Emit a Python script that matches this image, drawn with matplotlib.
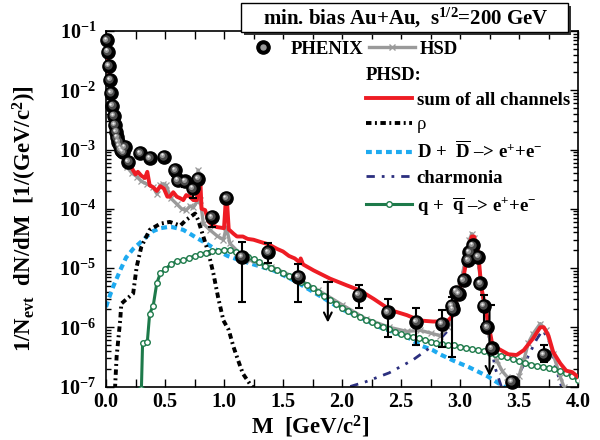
import matplotlib
matplotlib.use('Agg')
import numpy as np
import matplotlib.pyplot as plt
from matplotlib.lines import Line2D
from matplotlib.patches import Rectangle
from matplotlib.transforms import offset_copy
from matplotlib.legend_handler import HandlerTuple
from matplotlib.ticker import LogLocator, FuncFormatter, MultipleLocator, NullFormatter

plt.rcParams['font.family'] = ['Liberation Serif', 'DejaVu Serif']
plt.rcParams['font.weight'] = 'bold'
plt.rcParams['mathtext.fontset'] = 'custom'
plt.rcParams['mathtext.rm'] = 'Liberation Serif:bold'
plt.rcParams['mathtext.bf'] = 'Liberation Serif:bold'
plt.rcParams['mathtext.it'] = 'Liberation Serif:bold'

# PHENIX dielectron yield (spheres)
phx_m = [0.005, 0.015, 0.025, 0.035, 0.045, 0.055, 0.065, 0.075, 0.085, 0.095,
         0.105, 0.115, 0.125, 0.135, 0.145, 0.16, 0.19, 0.29, 0.37, 0.49,
         0.585, 0.61, 0.67, 0.735, 0.78, 0.895, 1.02,
         1.15, 1.375, 1.63, 2.14, 2.39, 2.63, 2.845,
         2.93, 2.94, 2.97, 2.99, 3.03, 3.07, 3.08, 3.11, 3.155, 3.17, 3.20, 3.23,
         3.27, 3.44, 3.71]
phx_y = [7.0e-2, 4.5e-2, 2.6e-2, 1.5e-2, 9.0e-3, 5.5e-3, 3.7e-3, 2.6e-3, 2.0e-3, 1.6e-3,
         1.35e-3, 1.15e-3, 1.0e-3, 9.5e-4, 9.0e-4, 1.1e-3, 6.2e-4, 8.7e-4, 7.1e-4, 7.6e-4,
         4.5e-4, 3.0e-4, 2.9e-4, 2.2e-4, 3.2e-4, 7.2e-5, 1.5e-4,
         1.55e-5, 1.86e-5, 7.1e-6, 3.5e-6, 1.8e-6, 1.23e-6, 1.15e-6,
         2.3e-6, 2.0e-6, 4.0e-6, 3.7e-6, 6.2e-6, 1.35e-5, 1.85e-5, 2.4e-5, 1.55e-5, 5.5e-6, 2.3e-6, 1.0e-6,
         4.4e-7, 1.2e-7, 3.4e-7]

# error bars: mass, value, lower end, upper end
err_m = [0.585, 0.67, 0.735, 0.895, 1.15, 1.375, 1.63, 2.14, 2.39, 2.63, 2.845, 2.93, 3.20, 3.71]
err_y = [4.5e-4, 2.9e-4, 2.2e-4, 7.2e-5, 1.55e-5, 1.86e-5, 7.1e-6, 3.5e-6, 1.8e-6, 1.23e-6, 1.15e-6, 2.3e-6, 2.3e-6, 3.4e-7]
err_lo = [3.6e-4, 2.3e-4, 1.5e-4, 4.9e-5, 2.7e-6, 1.2e-5, 2.7e-6, 2.1e-6, 6.9e-7, 5.0e-7, 4.7e-7, 3.2e-7, 1.0e-6, 2.6e-7]
err_hi = [4.5e-4, 2.9e-4, 2.2e-4, 7.2e-5, 2.75e-5, 2.6e-5, 1.15e-5, 5.1e-6, 3.0e-6, 2.1e-6, 1.95e-6, 3.2e-6, 3.5e-6, 5.0e-7]

# upper limits: mass, top of bar, arrow tip
ul_m = [1.88, 3.25]
ul_top = [5.9e-6, 2.4e-6]
ul_tip = [1.2e-6, 1.5e-7]

# HSD
hsd_m = [0.0, 0.02, 0.04, 0.06, 0.08, 0.10, 0.12, 0.15, 0.18, 0.22, 0.26, 0.30, 0.35, 0.40,
         0.43, 0.46, 0.48, 0.51, 0.55, 0.60, 0.64, 0.68, 0.71, 0.74, 0.77, 0.78, 0.80, 0.825,
         0.88, 0.94, 0.995, 1.02, 1.05, 1.135, 1.22, 1.30, 1.40, 1.60, 1.80, 2.00, 2.20, 2.40,
         2.55, 2.66, 2.75, 2.83, 2.90, 2.95, 3.00, 3.05, 3.08, 3.10, 3.12, 3.15, 3.18, 3.22,
         3.27, 3.31, 3.36, 3.40, 3.46, 3.50, 3.54, 3.58, 3.62, 3.68, 3.73, 3.79, 3.85, 3.88, 3.92]
hsd_y = [7.0e-2, 2.8e-2, 1.1e-2, 4.5e-3, 2.2e-3, 1.3e-3, 9.5e-4, 7.0e-4, 5.0e-4, 4.0e-4, 3.5e-4, 2.9e-4, 2.6e-4, 2.3e-4,
         1.8e-4, 2.5e-4, 2.6e-4, 2.5e-4, 1.5e-4, 1.2e-4, 1.0e-4, 9.5e-5, 1.1e-4, 1.05e-4, 1.3e-4, 4.5e-4, 1.4e-4, 5.6e-5,
         4.4e-5, 3.5e-5, 3.0e-5, 4.9e-5, 2.6e-5, 1.75e-5, 1.35e-5, 1.2e-5, 1.05e-5, 7.0e-6, 4.2e-6, 2.4e-6, 1.4e-6, 1.0e-6,
         8.5e-7, 8.9e-7, 8.0e-7, 7.2e-7, 1.0e-6, 2.0e-6, 5.0e-6, 1.5e-5, 3.0e-5, 3.8e-5, 3.2e-5, 1.5e-5, 5.0e-6, 1.2e-6,
         4.5e-7, 2.75e-7, 1.8e-7, 1.45e-7, 1.0e-7, 1.5e-7, 2.75e-7, 5.5e-7, 7.8e-7, 1.15e-6, 8.9e-7, 3.5e-7, 1.45e-7, 1.0e-7, 7.0e-8]

# PHSD: sum of all channels
sum_m = [0.0, 0.02, 0.04, 0.06, 0.08, 0.10, 0.12, 0.15, 0.18, 0.22, 0.25, 0.27, 0.30, 0.33, 0.35,
         0.37, 0.40, 0.43, 0.46, 0.49, 0.52, 0.54, 0.57, 0.60, 0.63, 0.655, 0.68, 0.71, 0.74, 0.77,
         0.785, 0.80, 0.81, 0.84, 0.87, 0.90, 0.94, 0.97, 1.00, 1.015, 1.025, 1.04, 1.08, 1.11, 1.16,
         1.20, 1.25, 1.31, 1.38, 1.45, 1.50, 1.55, 1.60, 1.64, 1.65, 1.67, 1.76, 1.90, 2.04, 2.15,
         2.27, 2.41, 2.55, 2.66, 2.77, 2.89, 2.93, 2.97, 3.03, 3.08, 3.10, 3.12, 3.155, 3.18, 3.23,
         3.27, 3.32, 3.41, 3.48, 3.54, 3.62, 3.68, 3.71, 3.75, 3.79, 3.85, 3.90, 3.95, 4.0]
sum_y = [8.0e-2, 3.0e-2, 1.2e-2, 5.0e-3, 2.5e-3, 1.5e-3, 1.1e-3, 8.0e-4, 6.0e-4, 4.8e-4, 3.8e-4, 4.2e-4, 3.6e-4, 3.3e-4, 4.2e-4,
         2.5e-4, 2.3e-4, 2.0e-4, 2.4e-4, 2.2e-4, 1.6e-4, 1.6e-4, 1.9e-4, 1.6e-4, 1.5e-4, 1.4e-4, 1.7e-4, 1.6e-4, 1.4e-4, 1.4e-4,
         3.0e-4, 2.8e-4, 1.0e-4, 9.5e-5, 6.0e-5, 5.3e-5, 4.9e-5, 4.8e-5, 4.7e-5, 1.4e-4, 1.4e-4, 4.5e-5, 3.8e-5, 3.4e-5, 3.4e-5,
         3.1e-5, 3.0e-5, 2.75e-5, 2.5e-5, 2.1e-5, 1.9e-5, 1.6e-5, 1.45e-5, 1.25e-5, 1.45e-5, 1.15e-5, 9.1e-6, 6.6e-6, 5.1e-6, 4.2e-6,
         3.0e-6, 1.95e-6, 1.6e-6, 1.3e-6, 1.25e-6, 1.25e-6, 1.5e-6, 2.9e-6, 7.1e-6, 2.6e-5, 3.4e-5, 3.4e-5, 1.8e-5, 4.8e-6, 1.5e-6,
         5.6e-7, 4.4e-7, 3.5e-7, 3.4e-7, 4.1e-7, 6.5e-7, 1.0e-6, 1.0e-6, 7.2e-7, 3.8e-7, 2.45e-7, 1.85e-7, 1.75e-7, 1.45e-7]

# rho
rho_m = [0.076, 0.09, 0.12, 0.13, 0.175, 0.23, 0.26, 0.30, 0.37, 0.46, 0.54, 0.63, 0.68, 0.755, 0.78,
         0.825, 0.87, 0.91, 0.95, 0.995, 1.04, 1.08, 1.12, 1.16, 1.22, 1.26]
rho_y = [9.0e-8, 3.2e-7, 1.3e-6, 2.5e-6, 3.0e-6, 3.7e-6, 1.05e-5, 2.3e-5, 4.4e-5, 5.6e-5, 6.0e-5, 5.2e-5, 6.5e-5, 8.3e-5, 6.5e-5,
         3.4e-5, 1.75e-5, 8.1e-6, 3.2e-6, 1.3e-6, 9.0e-7, 4.7e-7, 2.75e-7, 1.65e-7, 1.1e-7, 9.0e-8]

# D + Dbar
dd_m = [0.0, 0.03, 0.06, 0.12, 0.17, 0.23, 0.30, 0.345, 0.40, 0.46, 0.52, 0.56, 0.60, 0.655, 0.71, 0.77,
        0.85, 0.94, 1.03, 1.135, 1.25, 1.42, 1.59, 1.80, 2.00, 2.15, 2.32, 2.55, 2.66, 2.77, 2.83, 2.95,
        3.08, 3.23, 3.37, 3.45]
dd_y = [2.2e-6, 3.3e-6, 4.8e-6, 9.1e-6, 1.5e-5, 2.1e-5, 2.8e-5, 3.4e-5, 4.2e-5, 4.7e-5, 4.9e-5, 4.9e-5, 4.7e-5, 4.4e-5, 3.8e-5, 3.2e-5,
        2.6e-5, 2.0e-5, 1.6e-5, 1.35e-5, 1.15e-5, 9.1e-6, 6.2e-6, 3.5e-6, 2.0e-6, 1.5e-6, 1.0e-6, 6.9e-7, 5.0e-7, 4.1e-7, 3.5e-7, 2.7e-7,
        2.1e-7, 1.5e-7, 1.0e-7, 8.0e-8]

# charmonia
cc_m = [2.07, 2.20, 2.40, 2.60, 2.80, 2.90, 2.95, 3.00, 3.05, 3.10, 3.13, 3.16, 3.20, 3.25, 3.30, 3.35,
        3.45, 3.55, 3.65, 3.70, 3.75, 3.80, 3.86]
cc_y = [1.0e-7, 1.2e-7, 1.7e-7, 2.8e-7, 5.4e-7, 8.9e-7, 1.8e-6, 5.0e-6, 1.4e-5, 2.8e-5, 2.5e-5, 1.0e-5, 2.5e-6, 6.3e-7, 2.0e-7, 1.0e-7,
        1.1e-7, 2.5e-7, 6.3e-7, 8.9e-7, 6.3e-7, 2.5e-7, 1.0e-7]

# q + qbar
qq_m = [0.30, 0.31, 0.35, 0.37, 0.40, 0.43, 0.46, 0.50, 0.55, 0.60, 0.65, 0.70, 0.75, 0.80, 0.85, 0.90,
        0.95, 1.00, 1.05, 1.10, 1.15, 1.20, 1.25, 1.30, 1.35, 1.40, 1.45, 1.50, 1.55, 1.60, 1.65, 1.70,
        1.75, 1.80, 1.85, 1.90, 1.95, 2.00, 2.05, 2.10, 2.15, 2.20, 2.25, 2.30, 2.35, 2.40, 2.45, 2.50,
        2.55, 2.60, 2.65, 2.70, 2.75, 2.80, 2.85, 2.90, 2.95, 3.00, 3.05, 3.10, 3.15, 3.20, 3.25, 3.30,
        3.35, 3.40, 3.45, 3.50, 3.55, 3.60, 3.65, 3.70, 3.75, 3.80, 3.85, 3.90, 3.95, 4.00]
qq_y = [9.0e-8, 5.4e-7, 5.6e-7, 1.7e-6, 2.3e-6, 5.5e-6, 8.1e-6, 9.5e-6, 1.15e-5, 1.3e-5, 1.35e-5, 1.45e-5, 1.6e-5, 1.7e-5, 1.8e-5, 1.9e-5,
        1.95e-5, 2.0e-5, 2.0e-5, 1.85e-5, 1.7e-5, 1.55e-5, 1.4e-5, 1.25e-5, 1.1e-5, 1.0e-5, 9.3e-6, 8.2e-6, 7.3e-6, 6.5e-6, 5.9e-6, 5.2e-6,
        4.6e-6, 3.9e-6, 3.4e-6, 2.9e-6, 2.5e-6, 2.1e-6, 1.9e-6, 1.7e-6, 1.5e-6, 1.35e-6, 1.25e-6, 1.1e-6, 1.0e-6, 9.2e-7, 8.3e-7, 7.6e-7,
        7.2e-7, 6.8e-7, 6.5e-7, 6.1e-7, 5.7e-7, 5.4e-7, 5.2e-7, 5.1e-7, 5.0e-7, 4.7e-7, 4.5e-7, 4.3e-7, 4.1e-7, 3.9e-7, 3.7e-7, 3.5e-7,
        3.3e-7, 3.1e-7, 2.9e-7, 2.65e-7, 2.5e-7, 2.35e-7, 2.25e-7, 2.15e-7, 2.05e-7, 1.95e-7, 1.8e-7, 1.7e-7, 1.5e-7, 1.3e-7]

RED = '#ee1c24'
GREY = '#9a9a9a'
CYAN = '#1eaaf0'
NAVY = '#2b2f7f'
GREEN = '#1d7a4a'

fig = plt.figure(figsize=(6.0, 4.4), dpi=100)
ax = fig.add_axes([106 / 600, 1 - 386.5 / 440, 472 / 600, 355.5 / 440])

ax.plot(dd_m, dd_y, color=CYAN, lw=3, ls=(0, (1.4, 1.0)), zorder=2)
ax.plot(cc_m, cc_y, color=NAVY, lw=2, ls=(0, (3, 2.5, 1, 2.5, 1, 2.5)), zorder=2)
ax.plot(hsd_m, hsd_y, color=GREY, lw=2.4, marker='x', ms=4, mew=0.9, zorder=3)
ax.plot(rho_m, rho_y, color='black', lw=2.8, ls=(0, (1.4, 0.9, 0.5, 0.9)), zorder=3)
ax.plot(qq_m, qq_y, color=GREEN, lw=2.2, marker='o', ms=4, mfc='white', mec=GREEN, mew=1, zorder=3.5)
ax.plot(sum_m, sum_y, color=RED, lw=2.8, zorder=4)

# PHENIX points as shaded spheres
ax.errorbar(err_m, err_y, yerr=[np.array(err_y) - np.array(err_lo), np.array(err_hi) - np.array(err_y)],
            fmt='none', ecolor='black', elinewidth=1.5, capsize=3, capthick=1.5, zorder=5)
for m, top, tip in zip(ul_m, ul_top, ul_tip):
    ax.annotate('', xy=(m, tip), xytext=(m, top),
                arrowprops=dict(arrowstyle='->', lw=1.5, color='black', shrinkA=0, shrinkB=0, mutation_scale=14),
                zorder=5)
    ax.plot([m], [top], marker='_', ms=7, mew=1.5, color='black', zorder=5)
ax.plot(phx_m, phx_y, 'o', color='black', ms=9.5, zorder=6, clip_on=False)
for dx, ms, col in [(-0.6, 6.0, '#4a4a4a'), (-1.1, 3.6, '#9a9a9a'), (-1.5, 1.6, '#f0f0f0')]:
    tr = offset_copy(ax.transData, fig=fig, x=dx, y=-dx, units='points')
    ax.plot(phx_m, phx_y, 'o', color=col, mec='none', ms=ms, transform=tr, zorder=6, clip_on=False)

ax.set_yscale('log')
ax.set_xlim(0, 4.0)
ax.set_ylim(1e-7, 1e-1)
ax.xaxis.set_major_locator(MultipleLocator(0.5))
ax.xaxis.set_minor_locator(MultipleLocator(0.25))
ax.xaxis.set_major_formatter(FuncFormatter(lambda v, p: f'{v:.1f}'))
ax.yaxis.set_major_locator(LogLocator(base=10, numticks=10))
ax.yaxis.set_minor_locator(LogLocator(base=10, subs=np.arange(2, 10), numticks=10))
ax.yaxis.set_minor_formatter(NullFormatter())
ax.yaxis.set_major_formatter(FuncFormatter(lambda v, p: r'$\mathbf{10^{%d}}$' % round(np.log10(v))))
ax.tick_params(which='both', direction='in', top=True, right=True, width=1, labelsize=14.5)
ax.tick_params(which='major', length=6)
ax.tick_params(which='minor', length=3.5)
ax.tick_params(axis='x', which='minor', length=6)
ax.tick_params(axis='x', pad=4)
ax.tick_params(axis='y', pad=7)
for lab in ax.get_xticklabels() + ax.get_yticklabels():
    lab.set_fontweight('bold')
for s in ax.spines.values():
    s.set_linewidth(1.2)

fig.text(310 / 600, 1 - 427 / 440, r'M  [GeV/c$^{\mathbf{2}}$]', fontsize=16.5, fontweight='bold',
         ha='center', va='center')
fig.text(25 / 600, 1 - 219 / 440, r'1/N$_{\mathbf{evt}}$  dN/dM  [1/(GeV/c$^{\mathbf{2}}$)]', fontsize=16.5,
         fontweight='bold', rotation=90, ha='center', va='center')

# legends
sphere = (Line2D([], [], ls='none', marker='o', color='black', ms=9.5),
          Line2D([], [], ls='none', marker='o', color='#9a9a9a', ms=3.6))
hsd_h = Line2D([], [], color=GREY, lw=2.4, marker='x', ms=5, mew=1)
leg1 = fig.legend([sphere, hsd_h], ['PHENIX', 'HSD'], ncol=2, loc='center left',
                  bbox_to_anchor=(240 / 600, 1 - 49 / 440), frameon=False, fontsize=13.5,
                  handlelength=2.45, handletextpad=0.25, columnspacing=0.3, borderpad=0, borderaxespad=0,
                  handler_map={tuple: HandlerTuple(ndivide=1)})

phsd_handles = [Line2D([], [], color=RED, lw=2.8),
                Line2D([], [], color='black', lw=2.8, ls=(0, (1.4, 0.9, 0.5, 0.9))),
                Line2D([], [], color=CYAN, lw=3, ls=(0, (1.4, 1.0))),
                Line2D([], [], color=NAVY, lw=2, ls=(0, (3, 2.5, 1, 2.5, 1, 2.5))),
                Line2D([], [], color=GREEN, lw=2.2, marker='o', ms=4, mfc='white', mec=GREEN, mew=1)]
phsd_labels = ['sum of all channels', '\u03c1',
               'D +  $\\overline{\\mathbf{D}}$ \u2013> e$^{+}$+e$^{-}$',
               'charmonia',
               'q +  $\\overline{\\mathbf{q}}$ \u2013> e$^{+}$+e$^{-}$']
leg2 = fig.legend(phsd_handles, phsd_labels, loc='upper left', bbox_to_anchor=(366 / 600, 1 - 67 / 440),
                  frameon=False, fontsize=13.5, title='PHSD:', title_fontproperties={'size': 13.5, 'weight': 'bold'},
                  alignment='left', handlelength=2.45, handletextpad=0.25, labelspacing=0.4,
                  borderpad=0, borderaxespad=0)
leg2.get_texts()[1].set_fontweight('normal')

# title box with drop shadow
fig.add_artist(Rectangle((244 / 600, 1 - 35 / 440), 327 / 600, 29 / 440, transform=fig.transFigure,
                         facecolor='#333333', edgecolor='none', zorder=8))
fig.add_artist(Rectangle((241 / 600, 1 - 32 / 440), 327 / 600, 29 / 440, transform=fig.transFigure,
                         facecolor='white', edgecolor='black', lw=1, zorder=9))
fig.text(406 / 600, 1 - 18 / 440, r'min. bias Au+Au,  s$^{\mathbf{1/2}}$=200 GeV', fontsize=15,
         ha='center', va='center', zorder=10)

fig.savefig('out.png', dpi=100)
